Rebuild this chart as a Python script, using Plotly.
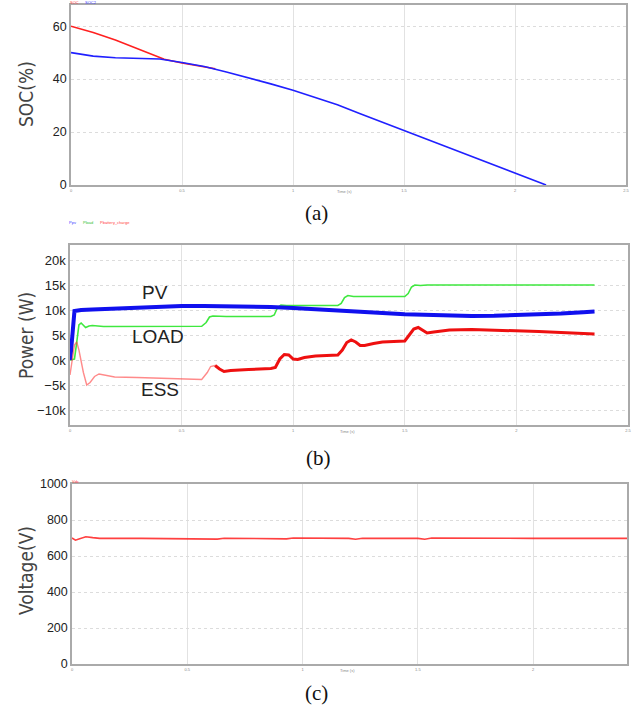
import plotly.graph_objects as go

W, H = 637, 712

# ---------------- Panel (a): SOC ----------------
soc_red_t = [0, 0.1, 0.2, 0.3, 0.42, 0.5, 0.6, 0.65]
soc_red_v = [60, 57.6, 54.8, 51.5, 47.5, 46.1, 44.6, 43.9]
soc_blue_t = [0, 0.05, 0.1, 0.2, 0.3, 0.4, 0.5, 0.6, 0.7, 0.8, 0.9, 1.0, 1.1, 1.2,
              1.3, 1.4, 1.5, 1.6, 1.7, 1.8, 1.9, 2.0, 2.14]
soc_blue_v = [50, 49.3, 48.7, 48.1, 47.8, 47.6, 46.3, 44.8, 42.7, 40.5, 38.2, 35.8, 33.0, 30.3,
              27.0, 23.7, 20.6, 17.4, 14.2, 11.0, 7.8, 4.5, 0]

# ---------------- Panel (b): Power (kW) ----------------
pv_t = [0, 0.005, 0.02, 0.05, 0.1, 0.2, 0.3, 0.4, 0.5, 0.6, 0.7, 0.8, 0.9, 1.0, 1.1, 1.2,
        1.3, 1.4, 1.5, 1.6, 1.7, 1.8, 1.9, 2.0, 2.1, 2.2, 2.3, 2.35]
pv_v = [0, 2.0, 9.8, 10.0, 10.1, 10.3, 10.5, 10.7, 10.8, 10.8, 10.8, 10.7, 10.6, 10.4, 10.1, 9.8,
        9.6, 9.4, 9.15, 9.0, 8.9, 8.8, 8.85, 8.95, 9.1, 9.3, 9.55, 9.7]
load_t = [0, 0.02, 0.03, 0.04, 0.05, 0.06, 0.07, 0.085, 0.1, 0.15, 0.3, 0.59, 0.61, 0.625, 0.64,
          0.7, 0.9, 0.915, 0.93, 0.945, 0.97, 1.2, 1.215, 1.23, 1.245, 1.27, 1.5, 1.515, 1.53,
          1.545, 1.57, 1.6, 2.35]
load_v = [0, 0.2, 3.5, 7.0, 7.4, 7.0, 6.5, 6.8, 6.9, 6.7, 6.7, 6.75, 7.5, 8.6, 8.8,
          8.7, 8.7, 9.0, 10.5, 11.0, 10.9, 10.9, 11.3, 12.5, 12.9, 12.7, 12.7, 13.3, 14.6,
          15.0, 14.9, 15.0, 15.0]
ess1_t = [0, 0.01, 0.02, 0.03, 0.04, 0.06, 0.075, 0.09, 0.11, 0.13, 0.16, 0.2, 0.3, 0.4, 0.5,
          0.59, 0.615, 0.63, 0.65]
ess1_v = [-3.0, 0.5, 3.0, 3.6, 2.0, -2.5, -5.0, -4.5, -3.3, -2.8, -3.0, -3.4, -3.5, -3.6, -3.7,
          -3.9, -2.5, -1.3, -1.1]
ess2_t = [0.65, 0.67, 0.69, 0.72, 0.8, 0.9, 0.92, 0.94, 0.96, 0.98, 1.0, 1.02, 1.05, 1.1, 1.15,
          1.2, 1.22, 1.24, 1.26, 1.28, 1.3, 1.32, 1.36, 1.4, 1.45, 1.5, 1.52, 1.54, 1.56, 1.58,
          1.6, 1.63, 1.7, 1.8, 1.9, 2.0, 2.1, 2.2, 2.3, 2.35]
ess2_v = [-1.1, -1.8, -2.3, -2.1, -1.9, -1.7, -1.5, 0.2, 1.1, 1.0, 0.2, 0.1, 0.5, 0.8, 0.9,
          1.0, 2.0, 3.5, 4.0, 3.6, 2.9, 2.9, 3.3, 3.6, 3.7, 3.8, 5.0, 6.2, 6.5, 6.0,
          5.4, 5.6, 6.0, 6.1, 6.0, 5.9, 5.7, 5.5, 5.3, 5.2]

# ---------------- Panel (c): Voltage ----------------
volt_t = [0, 0.015, 0.03, 0.06, 0.09, 0.12, 0.3, 0.6, 0.63, 0.66, 0.9, 0.93, 0.96, 1.2, 1.23,
          1.26, 1.5, 1.53, 1.56, 1.8, 2.0, 2.41]
volt_v = [700, 688, 695, 707, 702, 698, 698, 698, 694, 699, 698, 695, 700, 698, 693,
          699, 698, 693, 700, 698, 698, 698]

x_ticks = [0, 0.5, 1, 1.5, 2, 2.5]
x_ticktext = ["0", "0.5", "1", "1.5", "2", "2.5"]
soc_ticks = [0, 20, 40, 60]
pow_ticks = [-10, -5, 0, 5, 10, 15, 20]
pow_ticktext = ["\u221210k", "\u22125k", "0k", "5k", "10k", "15k", "20k"]
volt_ticks = [0, 200, 400, 600, 800, 1000]


def px(x):
    return x / W


def py(y):
    return 1 - y / H


fig = go.Figure()
fig.add_trace(go.Scatter(x=soc_red_t, y=soc_red_v, mode="lines",
                         line=dict(color="#ff2020", width=1.6), xaxis="x", yaxis="y"))
fig.add_trace(go.Scatter(x=soc_blue_t, y=soc_blue_v, mode="lines",
                         line=dict(color="#2020ff", width=1.6), xaxis="x", yaxis="y"))

fig.add_trace(go.Scatter(x=load_t, y=load_v, mode="lines",
                         line=dict(color="#3fe83f", width=1.6), xaxis="x2", yaxis="y2"))
fig.add_trace(go.Scatter(x=pv_t, y=pv_v, mode="lines",
                         line=dict(color="#1010ee", width=4), xaxis="x2", yaxis="y2"))
fig.add_trace(go.Scatter(x=ess1_t, y=ess1_v, mode="lines",
                         line=dict(color="rgba(255,60,60,0.6)", width=1.4), xaxis="x2", yaxis="y2"))
fig.add_trace(go.Scatter(x=ess2_t, y=ess2_v, mode="lines",
                         line=dict(color="#ee1010", width=3), xaxis="x2", yaxis="y2"))

fig.add_trace(go.Scatter(x=volt_t, y=volt_v, mode="lines",
                         line=dict(color="rgba(255,30,30,0.85)", width=1.6), xaxis="x3", yaxis="y3"))

tickfont_y = dict(family="Liberation Sans, Arial, sans-serif", size=12.5, color="#222")
tickfont_x = dict(family="Liberation Sans, Arial, sans-serif", size=4, color="#888")


def xaxis(domain, rng, anchor):
    return dict(domain=domain, range=rng, anchor=anchor, tickvals=x_ticks, ticktext=x_ticktext,
                tickfont=tickfont_x, showgrid=True, gridcolor="#e2e2e2", gridwidth=1,
                showline=True, mirror=True, linecolor="#aaaaaa", linewidth=1.5,
                zeroline=False, ticks="", fixedrange=True, automargin=False)


def yaxis(domain, rng, anchor, tv, tt=None, size=12.5):
    d = dict(domain=domain, range=rng, anchor=anchor, tickvals=tv,
             tickfont=dict(tickfont_y, size=size), showgrid=True, gridcolor="#dcdcdc",
             gridwidth=1, griddash="dot", showline=True, mirror=True, linecolor="#aaaaaa",
             linewidth=1.5, zeroline=False, ticks="", fixedrange=True, automargin=False)
    if tt is not None:
        d["ticktext"] = tt
    return d


fig.update_layout(
    width=W, height=H, margin=dict(l=0, r=0, t=0, b=0, pad=0, autoexpand=False),
    paper_bgcolor="white", plot_bgcolor="white", showlegend=False,
    xaxis=xaxis([px(71), px(626)], [0, 2.5], "y"),
    yaxis=yaxis([py(185), py(5)], [0, 68], "x", soc_ticks),
    xaxis2=xaxis([px(70), px(628)], [0, 2.5], "y2"),
    yaxis2=yaxis([py(425), py(245)], [-13, 23], "x2", pow_ticks, pow_ticktext, size=13),
    xaxis3=xaxis([px(72), px(627)], [0, 2.407], "y3"),
    yaxis3=yaxis([py(664), py(484)], [0, 1000], "x3", volt_ticks),
)

title_font = dict(family="Liberation Sans Narrow, Arial Narrow, DejaVu Sans Condensed, Liberation Sans, sans-serif",
                  size=19, color="#444")
cap_font = dict(family="Liberation Serif, DejaVu Serif, serif", size=21, color="#111")
lab_font = dict(family="Liberation Sans, Arial, sans-serif", size=19, color="#222")
tiny = dict(family="Liberation Sans, Arial, sans-serif", size=4)

ann = [
    dict(text="SOC(%)", x=px(26), y=py(94), textangle=-90, font=title_font),
    dict(text="Power (W)", x=px(26), y=py(335), textangle=-90, font=title_font),
    dict(text="Voltage(V)", x=px(26), y=py(570), textangle=-90, font=title_font),
    dict(text="(a)", x=px(316), y=py(213), font=cap_font),
    dict(text="(b)", x=px(318), y=py(458), font=cap_font),
    dict(text="(c)", x=px(316), y=py(693), font=cap_font),
    dict(text="PV", x=px(155), y=py(293), font=lab_font),
    dict(text="LOAD", x=px(158), y=py(336), font=lab_font),
    dict(text="ESS", x=px(160), y=py(390), font=lab_font),
    dict(text="SOC", x=px(74), y=py(2.5), font=dict(tiny, color="#ff4040")),
    dict(text="SOC2", x=px(91), y=py(2.5), font=dict(tiny, color="#4040ff")),
    dict(text="Ppv", x=px(72), y=py(222.5), font=dict(tiny, color="#4040ff")),
    dict(text="Pload", x=px(88), y=py(222.5), font=dict(tiny, color="#30c030")),
    dict(text="Pbattery_charge", x=px(115), y=py(222.5), font=dict(tiny, color="#ff4040")),
    dict(text="Vdc", x=px(75), y=py(481), font=dict(tiny, color="#ff4040")),
    dict(text="Time (s)", x=px(344), y=py(191), font=dict(tiny, color="#888")),
    dict(text="Time (s)", x=px(347), y=py(431), font=dict(tiny, color="#888")),
    dict(text="Time (s)", x=px(347), y=py(670), font=dict(tiny, color="#888")),
]
for a in ann:
    a.update(xref="paper", yref="paper", showarrow=False, xanchor="center", yanchor="middle")
fig.update_layout(annotations=ann)

fig.write_html(
    "out.html",
    config={"displayModeBar": False},
    post_script="document.body.style.margin='0';document.body.style.padding='0';"
                "document.documentElement.style.overflow='hidden';",
)
